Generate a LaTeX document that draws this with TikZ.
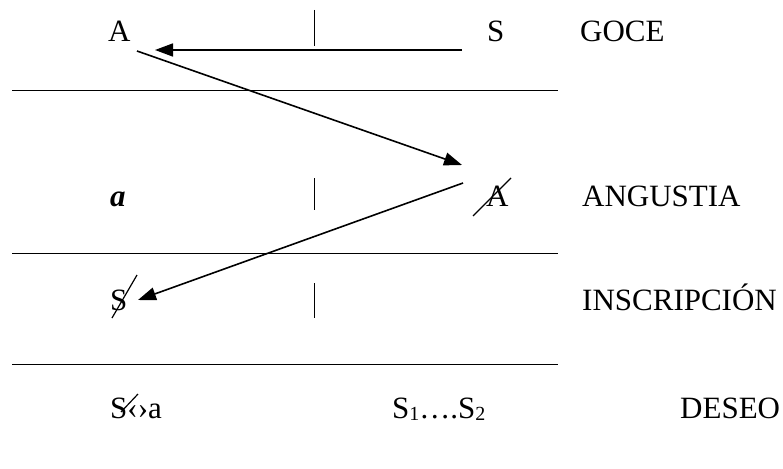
\documentclass[tikz,border=0pt]{standalone}
\usepackage{fontspec}
\setmainfont{Liberation Serif}
\usetikzlibrary{arrows.meta}

\begin{document}
\begin{tikzpicture}[x=1pt, y=-1pt, font=\fontsize{31}{37}\selectfont,
    txt/.style={anchor=base west, inner sep=0pt},
    raya/.style={line width=1pt},
    flecha/.style={line width=1.6pt, -{Triangle[length=18pt, width=13pt]}},
    tachado/.style={line width=1.2pt}]
    \useasboundingbox (0,0) rectangle (783,468);

    % separadores
    \draw[raya] (12,91) -- (558,91);
    \draw[raya] (12,253) -- (558,253);
    \draw[raya] (12,364) -- (558,364);

    % barras verticales
    \draw[raya] (314,10) -- (314,46);
    \draw[raya] (314,178) -- (314,210);
    \draw[raya] (314,283) -- (314,318);

    % goce
    \node[txt] (gA) at (108,42) {A};
    \node[txt] (gS) at (487,42) {S};
    \node[txt] (goce) at (580,42) {GOCE};

    % angustia
    \node[txt] (petita) at (110,206) {\textbf{\textit{a}}};
    \node[txt] (aA) at (486,206) {A};
    \node[txt] (angustia) at (582,206) {ANGUSTIA};
    \draw[tachado] (473,216) -- (511,178);

    % inscripcion
    \node[txt] (iS) at (110,310) {S};
    \node[txt] (inscripcion) at (582,310) {INSCRIPCIÓN};
    \draw[tachado] (112,318) -- (137,275);

    % deseo
    \node[txt] (fantasma) at (110,418) {S‹›a};
    \node[txt] (cadena) at (392,418) {S{\fontsize{20}{20}\selectfont\raisebox{-2pt}{1}}….S{\fontsize{20}{20}\selectfont\raisebox{-2pt}{2}}};
    \node[txt] (deseo) at (680,418) {DESEO};
    \draw[tachado] (121,412) -- (138,394);

    % flechas
    \coordinate (c1) at (462,50);
    \coordinate (c2) at (155,50);
    \coordinate (c3) at (137,51);
    \coordinate (c4) at (462,165);
    \coordinate (c5) at (463,183);
    \coordinate (c6) at (138,300);
    \draw[flecha] (c1) -- (c2);
    \draw[flecha] (c3) -- (c4);
    \draw[flecha] (c5) -- (c6);
\end{tikzpicture}
\end{document}
